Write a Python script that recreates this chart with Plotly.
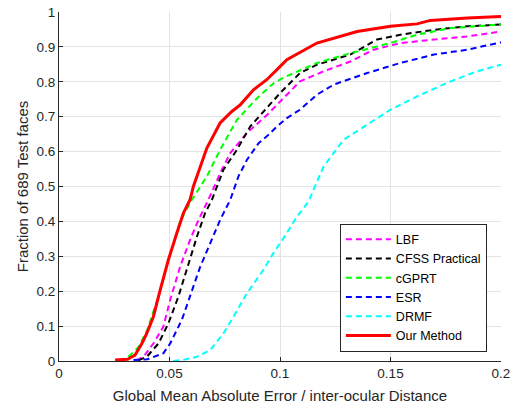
import plotly.graph_objects as go

# Our Method (red)
our_x = [0.0254, 0.031, 0.0344, 0.0375, 0.0397, 0.0427, 0.0458, 0.0495, 0.0533, 0.0563, 0.0593, 0.0608, 0.0669, 0.0729, 0.0782, 0.082, 0.088, 0.094, 0.1001, 0.1031, 0.1167, 0.1349, 0.150, 0.162, 0.168, 0.1847, 0.200]
our_y = [0.003, 0.005, 0.017, 0.05, 0.079, 0.127, 0.204, 0.29, 0.366, 0.424, 0.462, 0.50, 0.61, 0.682, 0.715, 0.734, 0.777, 0.806, 0.844, 0.863, 0.911, 0.944, 0.959, 0.966, 0.976, 0.983, 0.987]

# cGPRT (green)
cg_x = [0.0314, 0.036, 0.040, 0.0458, 0.0495, 0.0548, 0.0601, 0.0669, 0.0729, 0.0805, 0.0896, 0.0971, 0.1016, 0.1167, 0.1318, 0.150, 0.162, 0.1771, 0.200]
cg_y = [0.012, 0.04, 0.09, 0.20, 0.29, 0.40, 0.462, 0.529, 0.605, 0.691, 0.753, 0.796, 0.812, 0.854, 0.882, 0.911, 0.935, 0.954, 0.964]

# CFSS Practical (black)
cf_x = [0.036, 0.0397, 0.045, 0.0495, 0.054, 0.0586, 0.0624, 0.0661, 0.0692, 0.0744, 0.0805, 0.0865, 0.0926, 0.1001, 0.109, 0.1167, 0.1318, 0.1439, 0.1545, 0.1696, 0.1847, 0.200]
cf_y = [0.002, 0.012, 0.05, 0.108, 0.184, 0.28, 0.356, 0.424, 0.462, 0.548, 0.605, 0.672, 0.715, 0.768, 0.825, 0.849, 0.878, 0.921, 0.935, 0.949, 0.959, 0.964]

# LBF (magenta)
lbf_x = [0.035, 0.0382, 0.0427, 0.0472, 0.0503, 0.0548, 0.0593, 0.0631, 0.0676, 0.0729, 0.0775, 0.085, 0.0941, 0.1016, 0.109, 0.1197, 0.1318, 0.1424, 0.1545, 0.1696, 0.1847, 0.200]
lbf_y = [0.002, 0.012, 0.05, 0.098, 0.175, 0.27, 0.347, 0.404, 0.462, 0.538, 0.596, 0.653, 0.705, 0.752, 0.801, 0.83, 0.858, 0.892, 0.911, 0.921, 0.93, 0.944]

# ESR (blue)
esr_x = [0.0337, 0.040, 0.0472, 0.0503, 0.0556, 0.0593, 0.0639, 0.0684, 0.0729, 0.0775, 0.0812, 0.085, 0.0903, 0.0948, 0.0986, 0.1031, 0.109, 0.1167, 0.1243, 0.1394, 0.1545, 0.1696, 0.1847, 0.200]
esr_y = [0.003, 0.005, 0.022, 0.05, 0.118, 0.184, 0.27, 0.337, 0.404, 0.462, 0.529, 0.576, 0.624, 0.648, 0.672, 0.696, 0.72, 0.763, 0.792, 0.825, 0.854, 0.878, 0.892, 0.913]

# DRMF (cyan)
dr_x = [0.0517, 0.056, 0.0624, 0.0684, 0.0744, 0.079, 0.085, 0.0903, 0.0925, 0.097, 0.1016, 0.1077, 0.113, 0.1145, 0.1197, 0.1288, 0.1394, 0.150, 0.162, 0.1771, 0.1892, 0.200]
dr_y = [0.0, 0.003, 0.012, 0.031, 0.079, 0.127, 0.194, 0.242, 0.261, 0.309, 0.352, 0.414, 0.457, 0.481, 0.557, 0.634, 0.677, 0.72, 0.758, 0.801, 0.83, 0.849]

x_ticks = [0, 0.05, 0.1, 0.15, 0.2]
x_tick_labels = ["0", "0.05", "0.1", "0.15", "0.2"]
y_ticks = [0, 0.1, 0.2, 0.3, 0.4, 0.5, 0.6, 0.7, 0.8, 0.9, 1]
y_tick_labels = ["0", "0.1", "0.2", "0.3", "0.4", "0.5", "0.6", "0.7", "0.8", "0.9", "1"]

series = [
    ("LBF", lbf_x, lbf_y, "#ff00ff", "6px,4px", 2),
    ("CFSS Practical", cf_x, cf_y, "#000000", "6px,4px", 2),
    ("cGPRT", cg_x, cg_y, "#00ff00", "6px,4px", 2),
    ("ESR", esr_x, esr_y, "#0000ff", "6px,4px", 2),
    ("DRMF", dr_x, dr_y, "#00ffff", "6px,4px", 2),
    ("Our Method", our_x, our_y, "#ff0000", "solid", 3),
]

fig = go.Figure()
for name, xs, ys, color, dash, w in series:
    fig.add_trace(go.Scatter(x=xs, y=ys, mode="lines", name=name,
                             line=dict(color=color, dash=dash, width=w)))

font_family = "Liberation Sans, Arial, sans-serif"
axis_common = dict(
    showgrid=True, gridcolor="#e3e3e3", gridwidth=1,
    showline=True, linecolor="#262626", linewidth=1,
    ticks="inside", ticklen=4, tickcolor="#262626",
    zeroline=False, mirror=False, automargin=False,
    ticklabeloverflow="allow",
    tickfont=dict(family=font_family, size=13.5, color="#262626"),
)
fig.update_layout(
    width=516, height=409,
    margin=dict(l=59, r=15, t=12, b=48),
    paper_bgcolor="white", plot_bgcolor="white",
    font=dict(family=font_family, size=13.5, color="#262626"),
    showlegend=True,
    legend=dict(x=0.968, y=0.21, xanchor="right", yanchor="middle",
                bordercolor="#262626", borderwidth=1, bgcolor="white",
                font=dict(family=font_family, size=12.5, color="#000000"),
                tracegroupgap=0, itemwidth=45),
    xaxis=dict(range=[0, 0.2], tickvals=x_ticks, ticktext=x_tick_labels,
               title=dict(text="Global Mean Absolute Error / inter-ocular Distance",
                          font=dict(family=font_family, size=15, color="#262626"),
                          standoff=10),
               **axis_common),
    yaxis=dict(range=[0, 1], tickvals=y_ticks, ticktext=y_tick_labels,
               title=dict(text="Fraction of 689 Test faces",
                          font=dict(family=font_family, size=15, color="#262626"),
                          standoff=4),
               **axis_common),
)

# remove the default page margin so the figure sits at the window's top-left corner
fig.write_html("out.html", config={"displayModeBar": False},
               post_script="document.body.style.margin='0';")
